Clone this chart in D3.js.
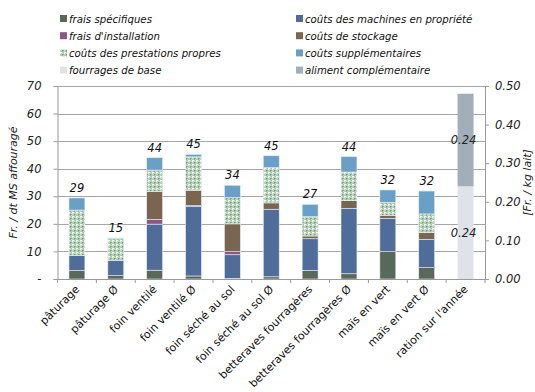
<!DOCTYPE html>
<html>
<head>
<meta charset="utf-8">
<script src="https://cdn.jsdelivr.net/npm/d3@7"></script>
<style>
  html, body { margin: 0; padding: 0; background: #fff; }
  svg { display: block; font-family: "DejaVu Sans", Verdana, sans-serif; }
</style>
</head>
<body>
<svg id="chart" width="535" height="392"></svg>
<script>
// Forage cost categories (left axis, Fr. / dt MS affouragé)
const categories = [
  "pâturage", "pâturage Ø", "foin ventilé", "foin ventilé  Ø",
  "foin séché au sol", "foin séché au sol  Ø", "betteraves fourragères",
  "betteraves fourragères Ø", "maïs en vert", "maïs en vert Ø", "ration sur l'année"
];
const fraisSpecifiques   = [3.1, 1.2, 3.2, 1.1, 0.2, 0.8, 3.1, 1.9, 9.9, 4.1, null];
const coutsMachines      = [5.4, 5.6, 16.7, 25.3, 8.6, 24.5, 11.5, 23.7, 12.1, 10.3, null];
const fraisInstallation  = [0, 0, 1.7, 0.2, 1.1, 0, 0, 0, 0, 0, null];
const coutsStockage      = [0, 0, 10.1, 5.6, 10.1, 2.3, 1.0, 2.8, 1.1, 2.5, null];
const coutsPrestations   = [16.5, 7.8, 7.8, 12.1, 9.5, 12.8, 7.0, 10.4, 4.7, 6.7, null];
const coutsSupplement    = [4.4, 0.3, 4.5, 0.9, 4.5, 4.3, 4.5, 5.6, 4.5, 8.3, null];
const totalLabels        = [29, 15, 44, 45, 34, 45, 27, 44, 32, 32, null];

// Yearly ration (right axis, Fr. / kg lait)
const fourragesBase = 0.24;
const alimentCompl  = 0.24;

const leftTicks  = [0, 10, 20, 30, 40, 50, 60, 70];
const rightTicks = [0, 0.1, 0.2, 0.3, 0.4, 0.5];

const seriesNames = [
  "frais spécifiques", "coûts des machines en propriété",
  "frais d'installation", "coûts de stockage",
  "coûts des prestations propres", "coûts supplémentaires",
  "fourrages de base", "aliment complémentaire"
];
const seriesColors = [
  "#58695a", "#506d99", "#8b5886", "#7a6551",
  "url(#prestations)", "#6a9fc8", "#dfe3e9", "#a2aeba"
];

const svg = d3.select("#chart");
const defs = svg.append("defs");

// fine dotted green fill used for "prestations propres"
const pat = defs.append("pattern")
  .attr("id", "prestations").attr("patternUnits", "userSpaceOnUse")
  .attr("width", 4).attr("height", 4);
pat.append("rect").attr("width", 4).attr("height", 4).attr("fill", "#bcd5be");
[[0, 0, "#f6faf4"], [1, 0, "#f6faf4"], [0, 1, "#e6f0e4"],
 [2, 2, "#6f9e7a"], [3, 2, "#8fb697"], [2, 3, "#8fb697"],
 [3, 0, "#a7c7ac"], [1, 3, "#a7c7ac"]].forEach(([px, py, c]) =>
  pat.append("rect").attr("x", px).attr("y", py).attr("width", 1).attr("height", 1).attr("fill", c));

const plot = { left: 57.5, right: 485, top: 86, bottom: 279 };

const x = d3.scaleBand().domain(categories)
  .range([plot.left, plot.right]).paddingInner(0.59).paddingOuter(0.295);
const yL = d3.scaleLinear().domain([0, 70]).range([plot.bottom, plot.top]);
const yR = d3.scaleLinear().domain([0, 0.5]).range([plot.bottom, plot.top]);

// horizontal gridlines
svg.append("g").selectAll("line").data(leftTicks.slice(1)).join("line")
  .attr("x1", plot.left).attr("x2", plot.right)
  .attr("y1", d => Math.round(yL(d)) + 0.5).attr("y2", d => Math.round(yL(d)) + 0.5)
  .attr("stroke", "#a6a6a6").attr("stroke-width", 1);

// stacked bars for the forage categories
const stackSeries = [fraisSpecifiques, coutsMachines, fraisInstallation,
                     coutsStockage, coutsPrestations, coutsSupplement];
const rows = categories.slice(0, 10).map((c, i) => {
  const r = { cat: c };
  stackSeries.forEach((s, k) => r["s" + k] = s[i]);
  return r;
});
const keys = stackSeries.map((_, k) => "s" + k);
const stacked = d3.stack().keys(keys)(rows);

const barG = svg.append("g");
stacked.forEach((layer, k) => {
  barG.append("g").selectAll("rect").data(layer.filter(d => d[1] - d[0] > 0)).join("rect")
    .attr("x", d => x(d.data.cat))
    .attr("width", x.bandwidth())
    .attr("y", d => yL(d[1]))
    .attr("height", d => yL(d[0]) - yL(d[1]))
    .attr("fill", seriesColors[k])
    .attr("stroke", "#e8eef4").attr("stroke-width", 0.6);
});

// total labels above the stacks
svg.append("g").selectAll("text").data(rows).join("text")
  .attr("x", d => x(d.cat) + x.bandwidth() / 2)
  .attr("y", (d, i) => yL(d3.sum(keys, k => d[k])) - 6)
  .attr("text-anchor", "middle")
  .attr("font-size", 11.5).attr("font-style", "italic").attr("fill", "#111")
  .text((d, i) => totalLabels[i]);

// yearly ration on the secondary axis
const ration = categories[10];
const rationParts = [
  { y0: 0, y1: fourragesBase, v: fourragesBase, color: seriesColors[6] },
  { y0: fourragesBase, y1: fourragesBase + alimentCompl, v: alimentCompl, color: seriesColors[7] }
];
svg.append("g").selectAll("rect").data(rationParts).join("rect")
  .attr("x", x(ration)).attr("width", x.bandwidth())
  .attr("y", d => yR(d.y1)).attr("height", d => yR(d.y0) - yR(d.y1))
  .attr("fill", d => d.color);
svg.append("g").selectAll("text").data(rationParts).join("text")
  .attr("x", x(ration) + x.bandwidth() / 2 - 2)
  .attr("y", d => (yR(d.y0) + yR(d.y1)) / 2 + 4)
  .attr("text-anchor", "middle")
  .attr("font-size", 11.5).attr("font-style", "italic").attr("fill", "#222")
  .text(d => d.v.toFixed(2));

// axes
const axisColor = "#9a9a9a";
const gL = svg.append("g").attr("transform", `translate(${plot.left},0)`)
  .call(d3.axisLeft(yL).tickValues(leftTicks).tickSize(4).tickPadding(12)
    .tickFormat(d => d === 0 ? "-" : d));
const gR = svg.append("g").attr("transform", `translate(${plot.right},0)`)
  .call(d3.axisRight(yR).tickValues(rightTicks).tickSize(4).tickPadding(6)
    .tickFormat(d3.format(".2f")));
[gL, gR].forEach(g => {
  g.select(".domain").attr("stroke", axisColor);
  g.selectAll(".tick line").attr("stroke", axisColor);
  g.selectAll("text").attr("font-size", 11.5).attr("font-style", "italic")
    .attr("fill", "#222").attr("font-family", "DejaVu Sans, sans-serif");
});

// x axis: baseline, boundary ticks and rotated labels
const step = x.step();
const x0 = x(categories[0]) - x.paddingOuter() * step;
svg.append("line").attr("x1", plot.left).attr("x2", plot.right)
  .attr("y1", plot.bottom + 0.5).attr("y2", plot.bottom + 0.5).attr("stroke", axisColor);
svg.append("g").selectAll("line").data(d3.range(categories.length + 1)).join("line")
  .attr("x1", i => x0 + i * step).attr("x2", i => x0 + i * step)
  .attr("y1", plot.bottom).attr("y2", plot.bottom + 4).attr("stroke", axisColor);
svg.append("g").selectAll("text").data(categories).join("text")
  .attr("transform", d => `translate(${x(d) + x.bandwidth() / 2 + 3},${plot.bottom + 11}) rotate(-45)`)
  .attr("text-anchor", "end")
  .attr("font-size", 11).attr("fill", "#111")
  .text(d => d);

// axis titles
svg.append("text")
  .attr("transform", `translate(17,${(plot.top + plot.bottom) / 2}) rotate(-90)`)
  .attr("text-anchor", "middle").attr("font-size", 11).attr("font-style", "italic")
  .attr("fill", "#222").text("Fr. / dt MS affouragé");
svg.append("text")
  .attr("transform", `translate(531,${(plot.top + plot.bottom) / 2}) rotate(-90)`)
  .attr("text-anchor", "middle").attr("font-size", 11).attr("font-style", "italic")
  .attr("fill", "#222").text("[Fr. /  kg lait]");

// legend, two columns
const legend = svg.append("g");
const legendCols = [60, 296];
seriesNames.forEach((name, i) => {
  const col = i % 2, row = Math.floor(i / 2);
  const gx = legendCols[col], gy = 19 + row * 17.2;
  legend.append("rect").attr("x", gx).attr("y", gy - 4).attr("width", 7).attr("height", 7)
    .attr("fill", seriesColors[i]);
  legend.append("text").attr("x", gx + 9).attr("y", gy + 3.5)
    .attr("font-size", 10.2).attr("font-style", "italic").attr("fill", "#111")
    .text(name);
});
</script>
</body>
</html>
